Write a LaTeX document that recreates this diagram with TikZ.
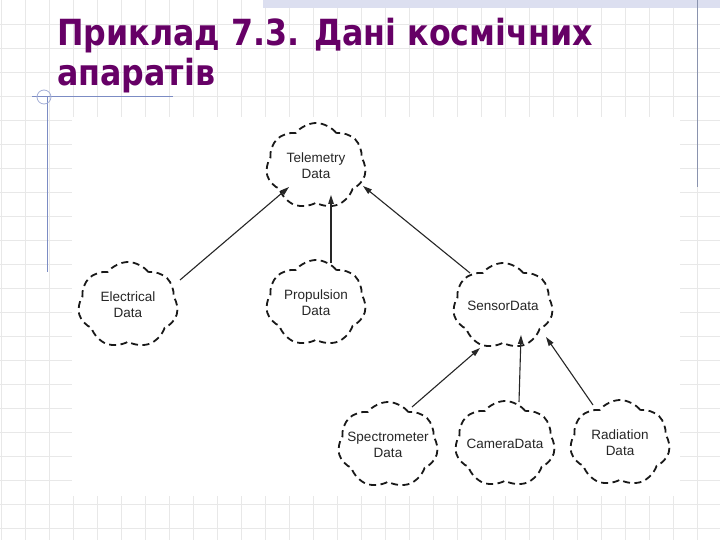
\documentclass[tikz,border=0pt]{standalone}
\usepackage{fontspec}
\setmainfont{Liberation Sans}
\newfontfamily\titlefont{DejaVu Sans}
\usetikzlibrary{shapes.symbols,arrows.meta,calc}
\definecolor{titlepurple}{HTML}{660066}
\definecolor{gridgray}{HTML}{E8E8E8}
\definecolor{bandblue}{HTML}{DCDFF0}
\definecolor{rulerblue}{HTML}{7C8CC4}
\definecolor{edgeblue}{HTML}{8A93AE}
\newcommand{\zw}[1]{\makebox[0pt]{#1}}
\tikzset{
  cls/.style={cloud, cloud puffs=7, cloud puff arc=105, cloud ignores aspect,
    draw=black!90, line width=1.8pt,
    dash pattern=on 7pt off 4.5pt, minimum width=100pt, minimum height=86pt, inner sep=0pt,
    align=center, font=\fontsize{13.5}{16}\selectfont, text=black!85},
  inh/.style={draw=black!85, line width=1.1pt, -{Triangle[length=9pt,width=5.5pt]}},
  gridline/.style={gridgray, line width=0.8pt},
  titletext/.style={anchor=base west, inner sep=0pt, text=titlepurple,
    font=\titlefont\bfseries\fontsize{36}{40}\selectfont},
}
\begin{document}
\begin{tikzpicture}[x=1pt,y=-1pt]
\useasboundingbox (0,0) rectangle (720,540);
\fill[white] (0,0) rectangle (720,540);
\foreach \i in {0,...,29} \draw[gridline] ({1+24*\i},0) -- ({1+24*\i},540);
\foreach \j in {1,...,22} \draw[gridline] (0,{24*\j}) -- (720,{24*\j});
\fill[bandblue] (263,0) rectangle (720,8);
\fill[white] (72,117) rectangle (680,496);
% slide decorations
\draw[edgeblue, line width=1pt] (697,0) -- (697,187);
\draw[rulerblue, line width=1pt] (32,97) -- (173,97);
\draw[rulerblue, line width=1pt] (47,97) -- (47,272);
\draw[rulerblue!70, line width=0.8pt] (44,97) circle (7);
% title
\node[titletext] (t1) at (57,46) {\scalebox{0.88}[1]{Приклад 7.3. Дані космічних}};
\node[titletext] (t2) at (57,86) {\scalebox{0.88}[1]{апаратів}};
% classes
\node[cls] (tel)  at (316,166) {\zw{Telemetry}\\\zw{Data}};
\node[cls] (elec) at (128,305) {\zw{Electrical}\\\zw{Data}};
\node[cls] (prop) at (316,303) {\zw{Propulsion}\\\zw{Data}};
\node[cls] (sens) at (503,306) {\zw{SensorData}};
\node[cls] (spec) at (388,445) {\zw{Spectrometer}\\\zw{Data}};
\node[cls] (cam)  at (505,444) {\zw{CameraData}};
\node[cls] (rad)  at (620,443) {\zw{Radiation}\\\zw{Data}};
% inheritance
\draw[inh] ($(elec.center)+(52,-25)$) -- ($(tel.center)+(-27,21)$);
\draw[inh] ($(prop.center)+(15,-40)$) -- ($(tel.center)+(15,29)$);
\draw[inh] ($(sens.center)+(-33,-33)$) -- ($(tel.center)+(47,20)$);
\draw[inh] ($(spec.center)+(24,-38)$) -- ($(sens.center)+(-23,42)$);
\draw[inh] ($(cam.center)+(14,-42)$) -- ($(sens.center)+(18,29)$);
\draw[inh] ($(rad.center)+(-27,-38)$) -- ($(sens.center)+(43,31)$);
\end{tikzpicture}
\end{document}
